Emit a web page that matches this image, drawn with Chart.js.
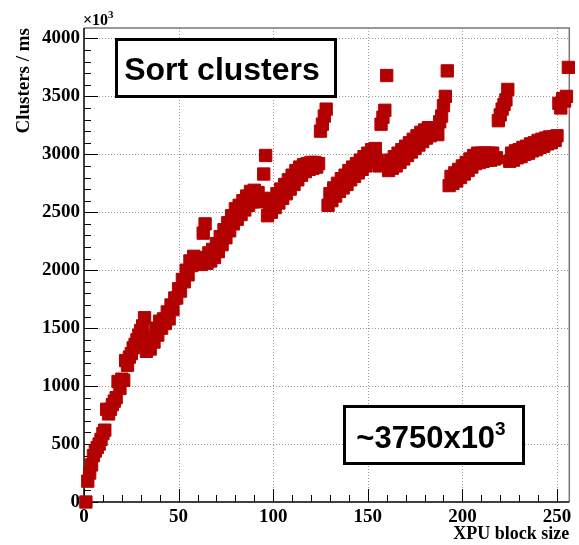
<!DOCTYPE html>
<html>
<head>
<meta charset="utf-8">
<script src="https://cdn.jsdelivr.net/npm/chart.js@4.4.1/dist/chart.umd.min.js"></script>
<style>
  html, body { margin: 0; padding: 0; background: #fff; }
  #wrap { width: 579px; height: 545px; }
</style>
</head>
<body>
<div id="wrap"><canvas id="myChart" width="579" height="545"></canvas></div>
<script>
// XPU block size (threads per block)
var blockSizes = [
  1, 2, 3, 4, 5, 6, 7, 8, 9, 10, 11, 12, 13, 14, 15, 16,
  17, 18, 19, 20, 21, 22, 23, 24, 25, 26, 27, 28, 29, 30, 31, 32,
  33, 34, 35, 36, 37, 38, 39, 40, 41, 42, 43, 44, 45, 46, 47, 48,
  49, 50, 51, 52, 53, 54, 55, 56, 57, 58, 59, 60, 61, 62, 63, 64,
  65, 66, 67, 68, 69, 70, 71, 72, 73, 74, 75, 76, 77, 78, 79, 80,
  81, 82, 83, 84, 85, 86, 87, 88, 89, 90, 91, 92, 93, 94, 95, 96,
  97, 98, 99, 100, 101, 102, 103, 104, 105, 106, 107, 108, 109, 110, 111, 112,
  113, 114, 115, 116, 117, 118, 119, 120, 121, 122, 123, 124, 125, 126, 127, 128,
  129, 130, 131, 132, 133, 134, 135, 136, 137, 138, 139, 140, 141, 142, 143, 144,
  145, 146, 147, 148, 149, 150, 151, 152, 153, 154, 155, 156, 157, 158, 159, 160,
  161, 162, 163, 164, 165, 166, 167, 168, 169, 170, 171, 172, 173, 174, 175, 176,
  177, 178, 179, 180, 181, 182, 183, 184, 185, 186, 187, 188, 189, 190, 191, 192,
  193, 194, 195, 196, 197, 198, 199, 200, 201, 202, 203, 204, 205, 206, 207, 208,
  209, 210, 211, 212, 213, 214, 215, 216, 217, 218, 219, 220, 221, 222, 223, 224,
  225, 226, 227, 228, 229, 230, 231, 232, 233, 234, 235, 236, 237, 238, 239, 240,
  241, 242, 243, 244, 245, 246, 247, 248, 249, 250, 251, 252, 253, 254, 255, 256
];

// sorted clusters per ms, in units of 10^3
var clustersPerMs = [
  0, 180, 250, 320, 400, 440, 470, 500, 540, 590, 620, 800, 760, 800, 840, 870,
  900, 1040, 980, 1060, 1050, 1220, 1180, 1250, 1280, 1330, 1360, 1400, 1440, 1480, 1520, 1590,
  1300, 1380, 1320, 1420, 1380, 1500, 1440, 1560, 1500, 1580, 1540, 1640, 1580, 1700, 1660, 1760,
  1760, 1840, 1820, 1920, 1900, 2000, 1960, 2080, 2040, 2120, 2060, 2110, 2060, 2050, 2320, 2400,
  2060, 2150, 2080, 2180, 2110, 2230, 2160, 2290, 2220, 2350, 2280, 2410, 2340, 2470, 2400, 2530,
  2440, 2560, 2480, 2600, 2520, 2640, 2560, 2680, 2590, 2690, 2600, 2670, 2590, 2620, 2830, 2990,
  2470, 2580, 2500, 2620, 2540, 2660, 2580, 2700, 2620, 2740, 2660, 2780, 2700, 2820, 2740, 2860,
  2780, 2890, 2820, 2910, 2850, 2920, 2870, 2930, 2880, 2930, 2890, 2920, 3200, 3260, 3330, 3390,
  2560, 2660, 2600, 2710, 2640, 2750, 2680, 2790, 2710, 2820, 2740, 2860, 2780, 2890, 2810, 2920,
  2840, 2950, 2870, 2980, 2900, 3010, 2930, 3040, 2960, 3050, 2950, 2900, 3260, 3320, 3380, 3680,
  2860, 2950, 2880, 2980, 2900, 3010, 2930, 3040, 2960, 3070, 2990, 3100, 3020, 3130, 3050, 3160,
  3080, 3190, 3110, 3210, 3140, 3230, 3160, 3230, 3180, 3230, 3170, 3280, 3330, 3420, 3500, 3720,
  2730, 2810, 2750, 2840, 2770, 2870, 2800, 2900, 2830, 2930, 2860, 2960, 2890, 2990, 2920, 3010,
  2930, 3010, 2940, 3010, 2950, 3010, 2950, 3010, 2960, 2970, 3290, 3340, 3390, 3430, 3470, 3560,
  2940, 3010, 2950, 3030, 2970, 3040, 2980, 3060, 3000, 3070, 3010, 3090, 3030, 3100, 3040, 3120,
  3060, 3130, 3070, 3140, 3090, 3150, 3100, 3150, 3120, 3160, 3440, 3400, 3480, 3460, 3500, 3750
];

var xTicks = [0, 50, 100, 150, 200, 250];
var yTicks = [0, 500, 1000, 1500, 2000, 2500, 3000, 3500, 4000];
var xMinorStep = 10;
var yMinorStep = 100;

var RED = '#b30000';
var axisFont = { family: 'Liberation Serif', weight: 'bold', size: 19 };

// ROOT-like frame: dotted grid, inward ticks, exponent label
var frame = {
  id: 'frame',
  beforeDatasetsDraw(chart) {
    var ctx = chart.ctx, a = chart.chartArea;
    var xs = chart.scales.x, ys = chart.scales.y;
    ctx.save();

    ctx.strokeStyle = '#999';
    ctx.lineWidth = 1;
    ctx.setLineDash([1, 2]);
    xTicks.forEach(function (v) {
      if (v === 0) return;
      var px = Math.round(xs.getPixelForValue(v)) + 0.5;
      ctx.beginPath(); ctx.moveTo(px, a.top); ctx.lineTo(px, a.bottom); ctx.stroke();
    });
    yTicks.forEach(function (v) {
      if (v === 0) return;
      var py = Math.round(ys.getPixelForValue(v)) + 0.5;
      ctx.beginPath(); ctx.moveTo(a.left, py); ctx.lineTo(a.right, py); ctx.stroke();
    });
    ctx.setLineDash([]);

    // top / right edges
    ctx.strokeStyle = '#777';
    ctx.lineWidth = 1.5;
    ctx.beginPath();
    ctx.moveTo(a.left, a.top); ctx.lineTo(a.right, a.top); ctx.lineTo(a.right, a.bottom);
    ctx.stroke();

    // axes
    ctx.strokeStyle = '#000';
    ctx.lineWidth = 1.5;
    ctx.beginPath();
    ctx.moveTo(a.left, a.top); ctx.lineTo(a.left, a.bottom); ctx.lineTo(a.right, a.bottom);
    ctx.stroke();

    ctx.lineWidth = 1;
    for (var v = 0; v <= xs.max; v += xMinorStep) {
      var major = v % 50 === 0;
      var px = Math.round(xs.getPixelForValue(v)) + 0.5;
      ctx.beginPath(); ctx.moveTo(px, a.bottom); ctx.lineTo(px, a.bottom - (major ? 13 : 7)); ctx.stroke();
    }
    for (var w = 0; w <= ys.max; w += yMinorStep) {
      var majorY = w % 500 === 0;
      var py = Math.round(ys.getPixelForValue(w)) + 0.5;
      ctx.beginPath(); ctx.moveTo(a.left, py); ctx.lineTo(a.left + (majorY ? 14 : 7), py); ctx.stroke();
    }

    // x10^3 exponent on the y axis
    ctx.fillStyle = '#000';
    ctx.textBaseline = 'alphabetic';
    ctx.textAlign = 'left';
    ctx.font = 'bold 16px "Liberation Serif"';
    ctx.fillText('\u00d710', a.left - 1, 25);
    var w10 = ctx.measureText('\u00d710').width;
    ctx.font = 'bold 11px "Liberation Serif"';
    ctx.fillText('3', a.left - 1 + w10, 18);
    ctx.restore();
  }
};

function textBox(ctx, x0, y0, x1, y1) {
  ctx.fillStyle = '#fff';
  ctx.fillRect(x0, y0, x1 - x0, y1 - y0);
  ctx.strokeStyle = '#000';
  ctx.lineWidth = 3;
  ctx.strokeRect(x0 + 1.5, y0 + 1.5, x1 - x0 - 3, y1 - y0 - 3);
}

var boxes = {
  id: 'boxes',
  afterDraw(chart) {
    var ctx = chart.ctx;
    ctx.save();
    textBox(ctx, 115, 38, 337, 98);
    ctx.fillStyle = '#000';
    ctx.textAlign = 'center';
    ctx.textBaseline = 'alphabetic';
    ctx.font = 'bold 32px "Liberation Sans"';
    ctx.fillText('Sort clusters', 222, 80);

    textBox(ctx, 343, 405, 525, 465);
    ctx.fillStyle = '#000';
    ctx.textAlign = 'left';
    ctx.font = 'bold 31px "Liberation Sans"';
    var main = '~3750x10';
    var mw = ctx.measureText(main).width;
    ctx.font = 'bold 19px "Liberation Sans"';
    var sw = ctx.measureText('3').width;
    var x0 = 431 - (mw + sw) / 2;
    ctx.font = 'bold 31px "Liberation Sans"';
    ctx.fillText(main, x0, 448);
    ctx.font = 'bold 19px "Liberation Sans"';
    ctx.fillText('3', x0 + mw, 435);
    ctx.restore();
  }
};

function plainNumber(value) { return String(value); }

var ctx = document.getElementById('myChart').getContext('2d');
var myChart = new Chart(ctx, {
  type: 'scatter',
  data: {
    datasets: [{
      data: blockSizes.map(function (x, i) { return { x: x, y: clustersPerMs[i] }; }),
      pointStyle: 'rect',
      pointRadius: 8.7,
      borderWidth: 1,
      backgroundColor: RED,
      borderColor: RED,
      clip: false
    }]
  },
  options: {
    responsive: false,
    animation: false,
    events: [],
    layout: { padding: { top: 28, right: 3, left: 0, bottom: 0 } },
    plugins: { legend: { display: false }, tooltip: { enabled: false } },
    scales: {
      x: {
        type: 'linear',
        min: 0,
        max: 256.5,
        afterBuildTicks: function (s) { s.ticks = xTicks.map(function (v) { return { value: v }; }); },
        afterFit: function (s) { s.height = 43; },
        grid: { display: false, drawTicks: false },
        border: { display: false },
        ticks: { color: '#000', font: axisFont, padding: 4, maxRotation: 0, autoSkip: false, callback: plainNumber },
        title: {
          display: true, text: 'XPU block size', align: 'end', color: '#000',
          font: { family: 'Liberation Serif', weight: 'bold', size: 18 }, padding: 0
        }
      },
      y: {
        type: 'linear',
        min: 0,
        max: 4090,
        afterBuildTicks: function (s) { s.ticks = yTicks.map(function (v) { return { value: v }; }); },
        afterFit: function (s) { s.width = 84; },
        grid: { display: false, drawTicks: false },
        border: { display: false },
        ticks: { color: '#000', font: axisFont, padding: 4, autoSkip: false, callback: plainNumber },
        title: {
          display: true, text: 'Clusters / ms', align: 'end', color: '#000',
          font: { family: 'Liberation Serif', weight: 'bold', size: 19 }, padding: { top: 13, bottom: 0 }
        }
      }
    }
  },
  plugins: [frame, boxes]
});
</script>
</body>
</html>
